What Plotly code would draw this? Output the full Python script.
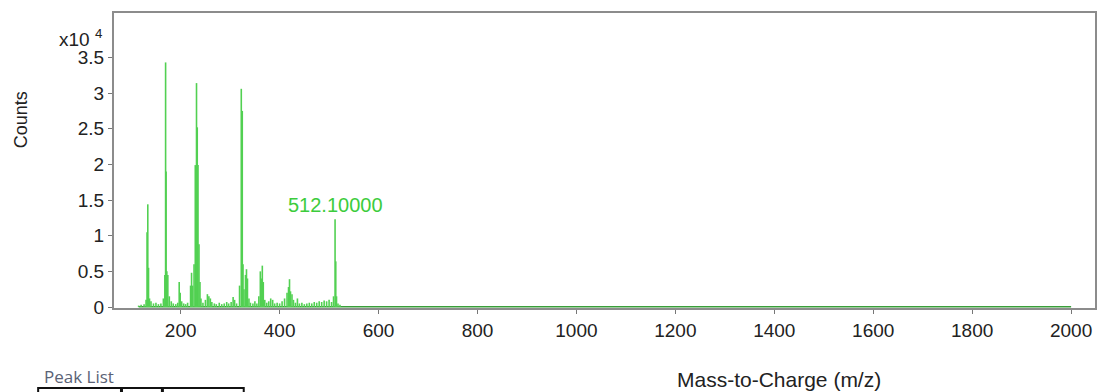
import plotly.graph_objects as go

# Centroided peak list: m/z and intensity (counts)
mz = [115, 120, 126, 130, 132, 133.5, 135, 137, 140, 145, 150, 155, 160, 165, 168, 169.5,
      170.5, 172, 174, 177, 181, 185, 190, 194, 197, 199, 202, 206, 210, 214, 220, 222,
      224, 227, 229.5, 232, 233.5, 235, 237, 239, 241, 245, 250, 254, 257, 260, 263, 268,
      272, 278, 283, 288, 293, 297, 302, 306, 309, 313, 319, 322.5, 324.5, 326, 328, 331,
      333, 335, 338, 341, 346, 350, 354, 358, 361, 363, 365, 367, 370, 374, 378, 382,
      386, 390, 395, 400, 405, 410, 415, 418, 420, 422, 425, 428, 432, 436, 440, 445,
      450, 455, 460, 465, 470, 475, 480, 485, 490, 495, 500, 505, 509, 512.1, 513.5, 515,
      518, 522]
counts = [200, 300, 400, 1000, 10500, 14400, 5500, 1200, 800, 500, 600, 400, 500, 1200, 4500, 34300,
          19000, 5000, 4500, 1500, 800, 500, 400, 600, 3500, 2000, 800, 500, 400, 600, 3000, 4800,
          3000, 6000, 19900, 31400, 25200, 19900, 8800, 3500, 1200, 600, 1000, 1800, 1500, 1200, 700, 500,
          400, 600, 400, 500, 700, 500, 700, 1400, 1000, 500, 3000, 30600, 27500, 6000, 2500, 4500,
          5300, 4000, 1200, 600, 500, 800, 500, 1500, 5000, 4000, 5800, 3500, 1000, 600, 800, 1200,
          1000, 500, 600, 500, 800, 1200, 2000, 2800, 3900, 2200, 1800, 1000, 600, 1200, 500, 600,
          400, 500, 600, 500, 700, 600, 800, 700, 900, 800, 1000, 700, 1500, 12300, 6400, 1500,
          500, 300]

# Baseline of the acquisition window
baseline_mz = [115, 2000]
baseline_counts = [40, 40]

labelled_mz = 512.1
labelled_text = "512.10000"

x_ticks = [200, 400, 600, 800, 1000, 1200, 1400, 1600, 1800, 2000]
y_ticks = [0, 5000, 10000, 15000, 20000, 25000, 30000, 35000]
y_tick_text = ["0", "0.5", "1", "1.5", "2", "2.5", "3", "3.5"]

green = "#52d052"
axis_grey = "#8c8c8c"
font_main = "Liberation Sans, Arial, sans-serif"

W, H = 1101, 392
L, R, T, B = 114, 4, 13, 84
pw, ph = W - L - R, H - T - B


def px(xp):
    return (xp - L) / pw


def py(yp):
    return (H - B - yp) / ph


stick_x, stick_y = [], []
for m, c in zip(mz, counts):
    stick_x += [m, m, None]
    stick_y += [0, c, None]

fig = go.Figure()
fig.add_trace(go.Scatter(x=baseline_mz, y=baseline_counts, mode="lines",
                         line=dict(color="#3a9e3a", width=1.5), hoverinfo="skip"))
fig.add_trace(go.Scatter(x=stick_x, y=stick_y, mode="lines",
                         line=dict(color=green, width=1.6), hoverinfo="skip"))

label_count = counts[mz.index(labelled_mz)]
fig.add_annotation(x=labelled_mz, y=label_count, text=labelled_text, showarrow=False,
                   xanchor="center", yanchor="bottom", yshift=1,
                   font=dict(color="#3ccc3c", size=20, family=font_main))

# Axis titles, scale factor and table caption
fig.add_annotation(x=px(21), y=py(120), xref="paper", yref="paper", text="Counts",
                   textangle=-90, xanchor="center", yanchor="middle", showarrow=False,
                   font=dict(size=18, color="#222", family=font_main))
fig.add_annotation(x=px(80), y=py(38), xref="paper", yref="paper", text="x10 <sup>4</sup>",
                   xanchor="center", yanchor="middle", showarrow=False,
                   font=dict(size=19, color="#222", family=font_main))
fig.add_annotation(x=px(780), y=py(379), xref="paper", yref="paper", text="Mass-to-Charge (m/z)",
                   xanchor="center", yanchor="middle", showarrow=False,
                   font=dict(size=21, color="#222", family=font_main))
fig.add_annotation(x=px(79), y=py(376), xref="paper", yref="paper", text="Peak List",
                   xanchor="center", yanchor="middle", showarrow=False,
                   font=dict(size=17, color="#5a6275", family="Open Sans, sans-serif"))

# Header row of the peak-list table
for x0, x1 in [(38, 121), (122, 162), (163, 244)]:
    fig.add_shape(type="rect", xref="paper", yref="paper",
                  x0=px(x0), x1=px(x1), y0=py(400), y1=py(388),
                  line=dict(color="#111", width=2), fillcolor="white")

fig.update_layout(
    width=W, height=H,
    margin=dict(l=L, r=R, t=T, b=B),
    paper_bgcolor="white", plot_bgcolor="white",
    showlegend=False,
    xaxis=dict(range=[65.2, 2048.3], tickvals=x_ticks, showgrid=False, zeroline=False,
               showline=True, mirror=True, linecolor=axis_grey, linewidth=2,
               ticks="outside", ticklen=4, tickcolor="#777", tickwidth=1,
               tickfont=dict(size=19, color="#222", family=font_main)),
    yaxis=dict(range=[-140, 41230], tickvals=y_ticks, ticktext=y_tick_text,
               showgrid=False, zeroline=False,
               showline=True, mirror=True, linecolor=axis_grey, linewidth=2,
               ticks="outside", ticklen=4, tickcolor="#777", tickwidth=1,
               tickfont=dict(size=19, color="#222", family=font_main)),
)

fig.write_html("out.html")
